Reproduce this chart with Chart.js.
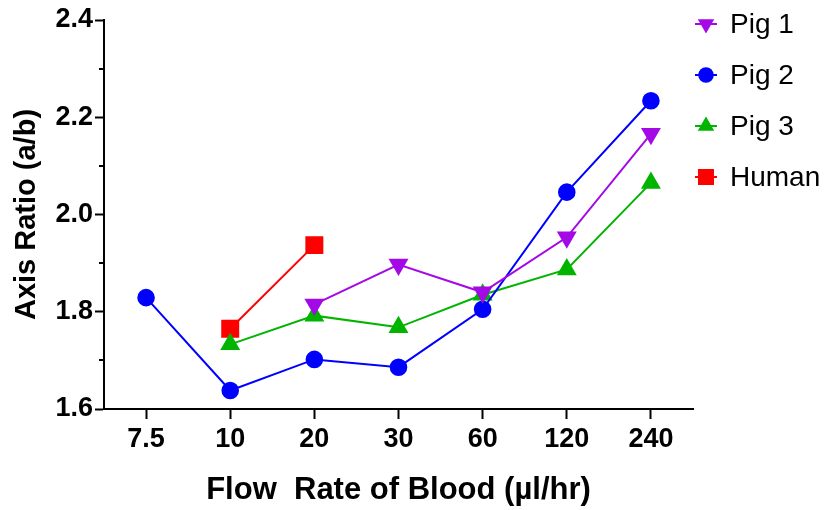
<!DOCTYPE html>
<html>
<head>
<meta charset="utf-8">
<script src="https://cdn.jsdelivr.net/npm/chart.js@4.4.0/dist/chart.umd.min.js"></script>
<style>
  body { margin: 0; background: #fff; }
  canvas { display: block; }
</style>
</head>
<body>
<canvas id="myChart" width="833" height="510"></canvas>
<script>
// values
const flowRates = ['7.5', '10', '20', '30', '60', '120', '240'];
const pig1 = [null, null, 1.815, 1.897, 1.840, 1.953, 2.166];
const pig2 = [1.829, 1.638, 1.702, 1.686, 1.805, 2.046, 2.234];
const pig3 = [null, 1.733, 1.792, 1.768, 1.835, 1.887, 2.065];
const human = [null, 1.765, 1.937, null, null, null, null];
const yTicks = [1.6, 1.8, 2.0, 2.2, 2.4];
const yMinorTicks = [1.7, 1.9, 2.1, 2.3];

const FONT = 'Liberation Sans, Arial, Helvetica, sans-serif';

function drawMarker(ctx, style, rot, r, x, y, color) {
  ctx.save();
  ctx.fillStyle = color;
  ctx.beginPath();
  if (style === 'circle') {
    ctx.arc(x, y, r, 0, Math.PI * 2);
  } else if (style === 'triangle') {
    let a = (rot || 0) * Math.PI / 180;
    for (let k = 0; k < 3; k++) {
      const px = x + Math.sin(a) * r, py = y - Math.cos(a) * r;
      if (k === 0) ctx.moveTo(px, py); else ctx.lineTo(px, py);
      a += Math.PI * 2 / 3;
    }
    ctx.closePath();
  } else {
    const s = r * Math.SQRT1_2;
    ctx.rect(x - s, y - s, 2 * s, 2 * s);
  }
  ctx.fill();
  ctx.restore();
}

// legend at the right, marker with a short line through it
const sideLegend = {
  id: 'sideLegend',
  afterDraw(chart) {
    const ctx = chart.ctx;
    const x0 = chart.chartArea.right + 2;
    chart.data.datasets.forEach((ds, i) => {
      const y = 24 + i * 51;
      ctx.save();
      ctx.strokeStyle = ds.borderColor;
      ctx.lineWidth = 2;
      ctx.beginPath();
      ctx.moveTo(x0, y);
      ctx.lineTo(x0 + 22, y);
      ctx.stroke();
      drawMarker(ctx, ds.pointStyle, ds.pointRotation, ds.pointRadius, x0 + 11, y, ds.borderColor);
      ctx.fillStyle = '#000';
      ctx.font = '28px ' + FONT;
      ctx.textBaseline = 'middle';
      ctx.textAlign = 'left';
      ctx.fillText(ds.label, x0 + 35, y + 1);
      ctx.restore();
    });
  }
};

// short minor ticks on the y axis
const minorTicks = {
  id: 'minorTicks',
  afterDraw(chart) {
    const ctx = chart.ctx;
    const ys = chart.scales.y;
    ctx.save();
    ctx.strokeStyle = '#000';
    ctx.lineWidth = 2;
    yMinorTicks.forEach(v => {
      const py = Math.round(ys.getPixelForValue(v));
      ctx.beginPath();
      ctx.moveTo(ys.right - 5, py);
      ctx.lineTo(ys.right, py);
      ctx.stroke();
    });
    ctx.restore();
  }
};

const ctx = document.getElementById('myChart').getContext('2d');
new Chart(ctx, {
  type: 'line',
  data: {
    labels: flowRates,
    datasets: [
      { label: 'Pig 1', data: pig1, borderColor: '#A30AE6', backgroundColor: '#A30AE6',
        pointStyle: 'triangle', pointRotation: 180, pointRadius: 9.5, borderWidth: 2 },
      { label: 'Pig 2', data: pig2, borderColor: '#0000FF', backgroundColor: '#0000FF',
        pointStyle: 'circle', pointRadius: 7.8, borderWidth: 2 },
      { label: 'Pig 3', data: pig3, borderColor: '#00B400', backgroundColor: '#00B400',
        pointStyle: 'triangle', pointRotation: 0, pointRadius: 9.5, borderWidth: 2 },
      { label: 'Human', data: human, borderColor: '#FF0000', backgroundColor: '#FF0000',
        pointStyle: 'rect', pointRadius: 11.3, borderWidth: 2 }
    ]
  },
  options: {
    responsive: false,
    animation: false,
    clip: false,
    layout: { padding: { top: 20, right: 140, left: 0, bottom: 0 } },
    elements: {
      point: { borderWidth: 0, hoverRadius: 8 },
      line: { tension: 0, spanGaps: false }
    },
    plugins: { legend: { display: false }, tooltip: { enabled: false } },
    scales: {
      x: {
        offset: true,
        grid: { offset: false, drawOnChartArea: false, drawTicks: true, tickLength: 10, tickWidth: 2, tickColor: '#000' },
        border: { color: '#000', width: 2 },
        ticks: { color: '#000', padding: 4, maxRotation: 0, font: { family: FONT, size: 27, weight: 'bold' } },
        title: { display: true, text: 'Flow  Rate of Blood (\u00b5l/hr)', color: '#000',
                 font: { family: FONT, size: 31, weight: 'bold' }, padding: { top: 0, bottom: 1 } },
        afterFit(scale) { scale.height = 101; }
      },
      y: {
        min: 1.6,
        max: 2.4,
        afterBuildTicks(scale) { scale.ticks = yTicks.map(v => ({ value: v })); },
        grid: { drawOnChartArea: false, drawTicks: true, tickLength: 9, tickWidth: 2, tickColor: '#000' },
        border: { color: '#000', width: 2 },
        ticks: { color: '#000', padding: 2, callback: v => Number(v).toFixed(1),
                 font: { family: FONT, size: 27, weight: 'bold' } },
        title: { display: true, text: 'Axis Ratio (a/b)', color: '#000',
                 font: { family: FONT, size: 29, weight: 'bold' }, padding: { top: 10, bottom: 0 } },
        afterFit(scale) { scale.width = 104; }
      }
    }
  },
  plugins: [sideLegend, minorTicks]
});
</script>
</body>
</html>
